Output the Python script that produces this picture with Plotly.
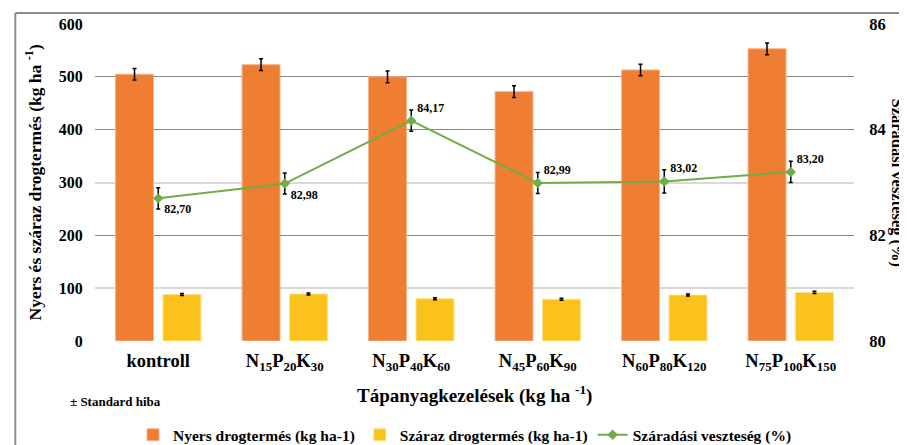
import plotly.graph_objects as go

categories = ["kontroll",
              "N<sub>15</sub>P<sub>20</sub>K<sub>30</sub>",
              "N<sub>30</sub>P<sub>40</sub>K<sub>60</sub>",
              "N<sub>45</sub>P<sub>60</sub>K<sub>90</sub>",
              "N<sub>60</sub>P<sub>80</sub>K<sub>120</sub>",
              "N<sub>75</sub>P<sub>100</sub>K<sub>150</sub>"]
nyers = [505, 523, 500, 472, 513, 553]
nyers_err = [11, 11, 11, 11, 11, 11]
szaraz = [88, 89, 80, 79, 87, 92]
szaraz_err = [2, 2, 2, 2, 2, 2]
veszteseg = [82.70, 82.98, 84.17, 82.99, 83.02, 83.20]
veszteseg_err = [0.2, 0.2, 0.2, 0.2, 0.22, 0.2]
label_pos = ["bottom right", "bottom right", "top right", "top right", "top right", "top right"]
left_ticks = [0, 100, 200, 300, 400, 500, 600]
right_ticks = [80, 82, 84, 85, 86]
right_ticktext = ["80", "82", "84", "", "86"]
right_minor = [81, 83]

FONT = "Liberation Serif"
CLEAR = "rgba(0,0,0,0)"

fig = go.Figure()
fig.add_trace(go.Bar(
    x=categories, y=nyers, name="Nyers drogtermés (kg ha-1)",
    marker=dict(color="#ef7d32", line=dict(color="#f5b48a", width=1)),
    error_y=dict(type="data", array=nyers_err, color="black", thickness=1.5, width=2),
))
fig.add_trace(go.Bar(
    x=categories, y=szaraz, name="Száraz drogtermés (kg ha-1)",
    marker=dict(color="#fcc21c", line=dict(color="#ffe08a", width=1)),
    error_y=dict(type="data", array=szaraz_err, color="black", thickness=1.5, width=2),
))
fig.add_trace(go.Scatter(
    x=categories, y=veszteseg, name="Száradási veszteség (%)", yaxis="y2",
    mode="lines+markers+text",
    line=dict(color="#70ad47", width=2),
    marker=dict(symbol="diamond", size=8, color="#70ad47"),
    error_y=dict(type="data", array=veszteseg_err, color="black", thickness=1.5, width=2),
    texttemplate="%{y:.2f}", textposition=label_pos,
    textfont=dict(family=FONT, size=12, color="black", weight="bold"),
))

fig.update_layout(
    width=907, height=445,
    margin=dict(l=87, r=61, t=16, b=112, autoexpand=False),
    paper_bgcolor="white", plot_bgcolor="white",
    separators=", ",
    barmode="group", bargap=0.25, bargroupgap=0.2,
    font=dict(family=FONT, color="black", weight="bold"),
    showlegend=True,
    legend=dict(orientation="h", x=0.4875, xanchor="center", xref="paper",
                yref="container", y=0.04, yanchor="middle",
                font=dict(size=15.5, family=FONT, weight="bold"), traceorder="normal"),
    xaxis=dict(tickfont=dict(size=18.5, family=FONT, weight="bold"), showline=False,
               ticks="outside", ticklen=3, tickcolor=CLEAR),
    yaxis=dict(range=[0, 600], tickvals=left_ticks, showgrid=False, zeroline=False,
               ticks="outside", ticklen=8, tickcolor=CLEAR,
               tickfont=dict(size=16, family=FONT, weight="bold"), showline=False),
    yaxis2=dict(range=[80, 86], overlaying="y", side="right",
                tickvals=right_ticks, ticktext=right_ticktext,
                gridcolor="#868686", gridwidth=1.2, showgrid=True, zeroline=False,
                ticks="outside", ticklen=11, tickcolor=CLEAR,
                minor=dict(tickvals=right_minor, showgrid=True, gridcolor="#d9d9d9", gridwidth=1.5),
                tickfont=dict(size=16.5, family=FONT, weight="bold"), showline=False),
)

fig.add_annotation(text="Tápanyagkezelések (kg ha <sup>-1</sup>)",
                   xref="paper", yref="paper", x=0.5, y=-0.17, xanchor="center", yanchor="middle",
                   showarrow=False, font=dict(size=19, family=FONT, weight="bold"))
fig.add_annotation(text="Nyers és száraz drogtermés (kg ha <sup>-1</sup>)", textangle=-90,
                   xref="paper", yref="paper", x=-0.0817, y=0.5, xanchor="center", yanchor="middle",
                   showarrow=False, font=dict(size=17.5, family=FONT, weight="bold"))
fig.add_annotation(text="Száradási veszteség (%)", textangle=90,
                   xref="paper", yref="paper", x=1.0567, y=0.5, xanchor="center", yanchor="middle",
                   showarrow=False, font=dict(size=16.5, family=FONT, weight="bold"))
fig.add_annotation(text="± Standard hiba", xref="paper", yref="paper", x=-0.0356, y=-0.192,
                   xanchor="left", yanchor="middle", showarrow=False,
                   font=dict(size=13, family=FONT, weight="bold"))
# chart-area frame (left and top edges visible, as in the reference)
fig.add_shape(type="line", xref="paper", yref="paper", x0=-0.105, y0=-0.34, x1=-0.105, y1=1.035,
              line=dict(color="#8c8c8c", width=2), layer="above")
fig.add_shape(type="line", xref="paper", yref="paper", x0=-0.105, y0=1.035, x1=1.07, y1=1.035,
              line=dict(color="#8c8c8c", width=2), layer="above")

fig.write_html("out.html")
